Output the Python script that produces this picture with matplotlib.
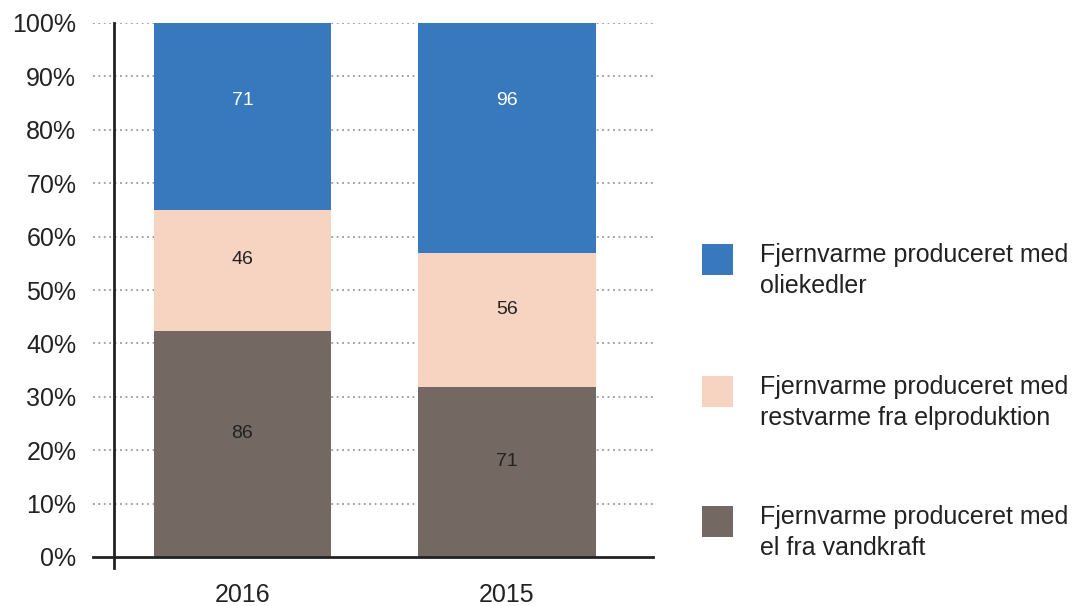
import numpy as np
import matplotlib
matplotlib.use("Agg")
import matplotlib.pyplot as plt
from matplotlib.patches import Rectangle

# ---------------- Data ----------------
years = ["2016", "2015"]
el_vandkraft = [86, 71]
restvarme = [46, 56]
oliekedler = [71, 96]

series = [el_vandkraft, restvarme, oliekedler]
labels = [
    ["Fjernvarme produceret med", "el fra vandkraft"],
    ["Fjernvarme produceret med", "restvarme fra elproduktion"],
    ["Fjernvarme produceret med", "oliekedler"],
]
colors = ["#736862", "#f7d4c2", "#3878bc"]
text_colors = ["#222222", "#222222", "#ffffff"]

plt.rcParams['font.family'] = ['Liberation Sans', 'DejaVu Sans']

W, H = 1076, 606
fig = plt.figure(figsize=(W / 100, H / 100), dpi=100)

# axes box in pixels: x 93..653, y 23..557
ax = fig.add_axes([93 / W, (H - 557) / H, (653 - 93) / W, (557 - 23) / H])

vals = np.array(series, dtype=float)
shares = vals / vals.sum(axis=0) * 100
x = np.arange(len(years))
bottom = np.zeros(len(years))

for i in range(len(series)):
    ax.bar(x, shares[i], bottom=bottom, width=0.67, color=colors[i],
           zorder=3, linewidth=0)
    for j in range(len(years)):
        if i == len(series) - 1:
            # top segment labels sit at a fixed distance under the top
            yc = bottom[j] + shares[i][j] - 14.5
        else:
            yc = bottom[j] + shares[i][j] / 2 + 2
        ax.text(x[j], yc, str(series[i][j]), ha='center', va='center',
                fontsize=14, color=text_colors[i], zorder=4)
    bottom += shares[i]

ax.set_xlim(-0.565, 1.552)
ax.set_ylim(0, 100)

# grid
for yv in range(10, 101, 10):
    ax.axhline(yv, color='#999999', linestyle=(0, (1, 2)), linewidth=1.3, zorder=1)
ax.axhline(0, color='#222222', linewidth=2, zorder=5, clip_on=False)

# vertical axis line
ax.plot([-0.486, -0.486], [-2, 100], color='#222222', linewidth=2,
        clip_on=False, zorder=5)

for s in ax.spines.values():
    s.set_visible(False)

ax.set_yticks(range(0, 101, 10))
ax.set_yticklabels([f"{v}%" for v in range(0, 101, 10)], fontsize=18, color='#222222')
ax.set_xticks(x)
ax.set_xticklabels(years, fontsize=18, color='#222222')
ax.tick_params(axis='both', length=0)
ax.tick_params(axis='y', pad=12)
ax.tick_params(axis='x', pad=19)

# legend, drawn manually (top entry first)
leg_y = [244, 376, 506]
for k, i in enumerate([2, 1, 0]):
    y0 = leg_y[k]
    fig.add_artist(Rectangle((702 / W, (H - y0 - 31) / H), 31 / W, 31 / H,
                             transform=fig.transFigure, color=colors[i], lw=0))
    for n, line in enumerate(labels[i]):
        fig.text(760 / W, (H - y0 - 18 - 31 * n) / H, line, fontsize=18,
                 color='#222222', ha='left', va='baseline')

fig.savefig("out.png", dpi=100)
